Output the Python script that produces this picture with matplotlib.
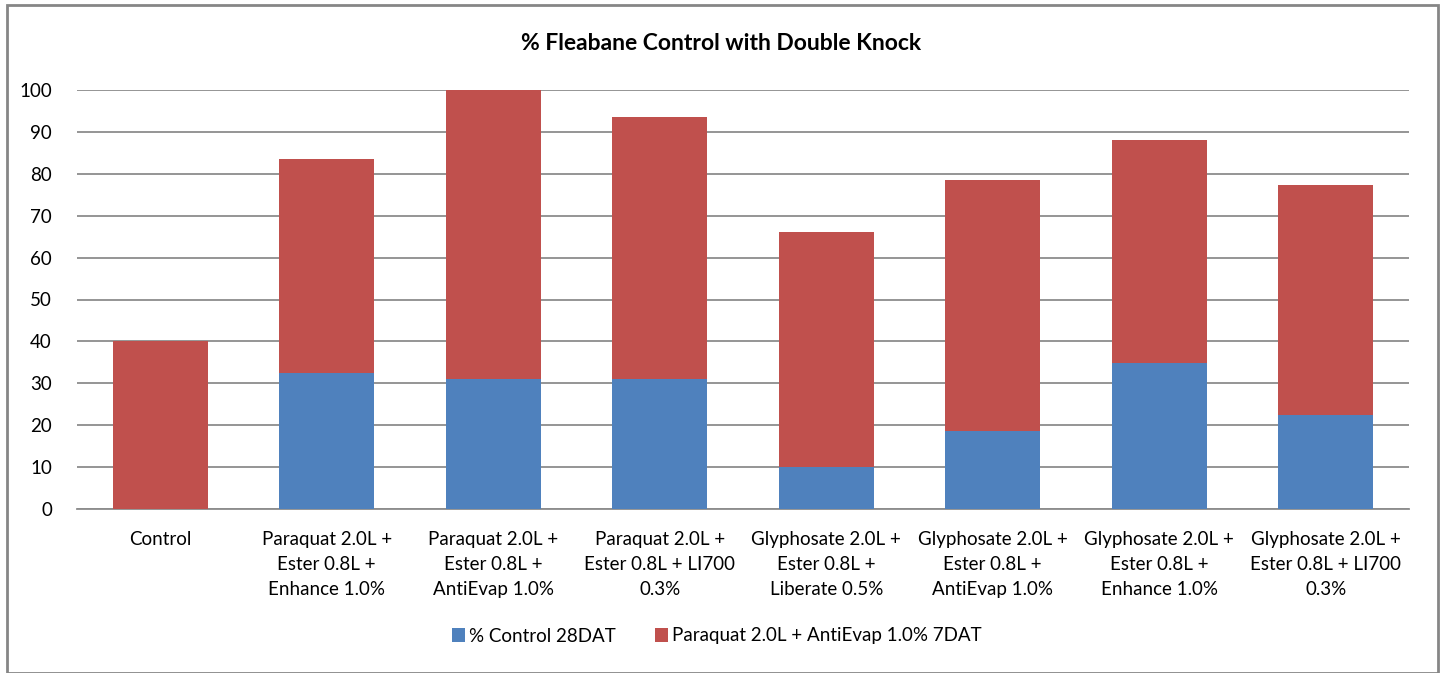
import matplotlib.pyplot as plt
import numpy as np

# Values
categories = ['Control',
              'Paraquat 2.0L +\nEster 0.8L +\nEnhance 1.0%',
              'Paraquat 2.0L +\nEster 0.8L +\nAntiEvap 1.0%',
              'Paraquat 2.0L +\nEster 0.8L + LI700\n0.3%',
              'Glyphosate 2.0L +\nEster 0.8L +\nLiberate 0.5%',
              'Glyphosate 2.0L +\nEster 0.8L +\nAntiEvap 1.0%',
              'Glyphosate 2.0L +\nEster 0.8L +\nEnhance 1.0%',
              'Glyphosate 2.0L +\nEster 0.8L + LI700\n0.3%']
control_28dat = [0, 32.5, 31.0, 31.0, 10.0, 18.6, 34.8, 22.4]
paraquat_7dat = [40.0, 51.1, 69.0, 62.6, 56.1, 59.9, 53.3, 54.9]

plt.rcParams['font.family'] = ['Lato', 'DejaVu Sans']

fig = plt.figure(figsize=(14.42, 6.73), dpi=100)
ax = fig.add_axes([77 / 1442, 1 - 509 / 673, 1332 / 1442, 419 / 673])

x = np.arange(len(categories))
ax.bar(x, control_28dat, width=0.57, color='#4F81BD', label='% Control 28DAT', zorder=3)
ax.bar(x, paraquat_7dat, width=0.57, bottom=control_28dat, color='#C0504D',
       label='Paraquat 2.0L + AntiEvap 1.0% 7DAT', zorder=3)

ax.set_xlim(-0.5, len(categories) - 0.5)
ax.set_ylim(0, 100)
ax.set_yticks(range(0, 101, 10))
ax.set_xticks(x)
ax.set_xticklabels(categories, fontsize=13.5, linespacing=1.55)
ax.tick_params(axis='y', labelsize=13.5, length=0, pad=18)
ax.tick_params(axis='x', length=0, pad=16)
ax.grid(axis='y', color='#8C8C8C', linewidth=1.3, zorder=0)
for s in ['top', 'right', 'left']:
    ax.spines[s].set_visible(False)
ax.spines['bottom'].set_color('#8C8C8C')
ax.spines['bottom'].set_linewidth(1.3)

fig.text(0.5, 1 - 43 / 673, '% Fleabane Control with Double Knock', ha='center', va='center',
         fontsize=16.5, fontweight='bold')

fig.legend(loc='center', bbox_to_anchor=(0.497, 1 - 636 / 673), ncol=2, frameon=False,
           fontsize=13.5, handlelength=0.7, handleheight=0.7, handletextpad=0.2,
           columnspacing=2.1)

# outer chart frame
border = plt.Rectangle((7 / 1442, 0), 1431 / 1442, 1 - 5 / 673, transform=fig.transFigure,
                       fill=False, edgecolor='#868686', linewidth=2)
fig.patches.append(border)

fig.savefig('out.png', dpi=100)
